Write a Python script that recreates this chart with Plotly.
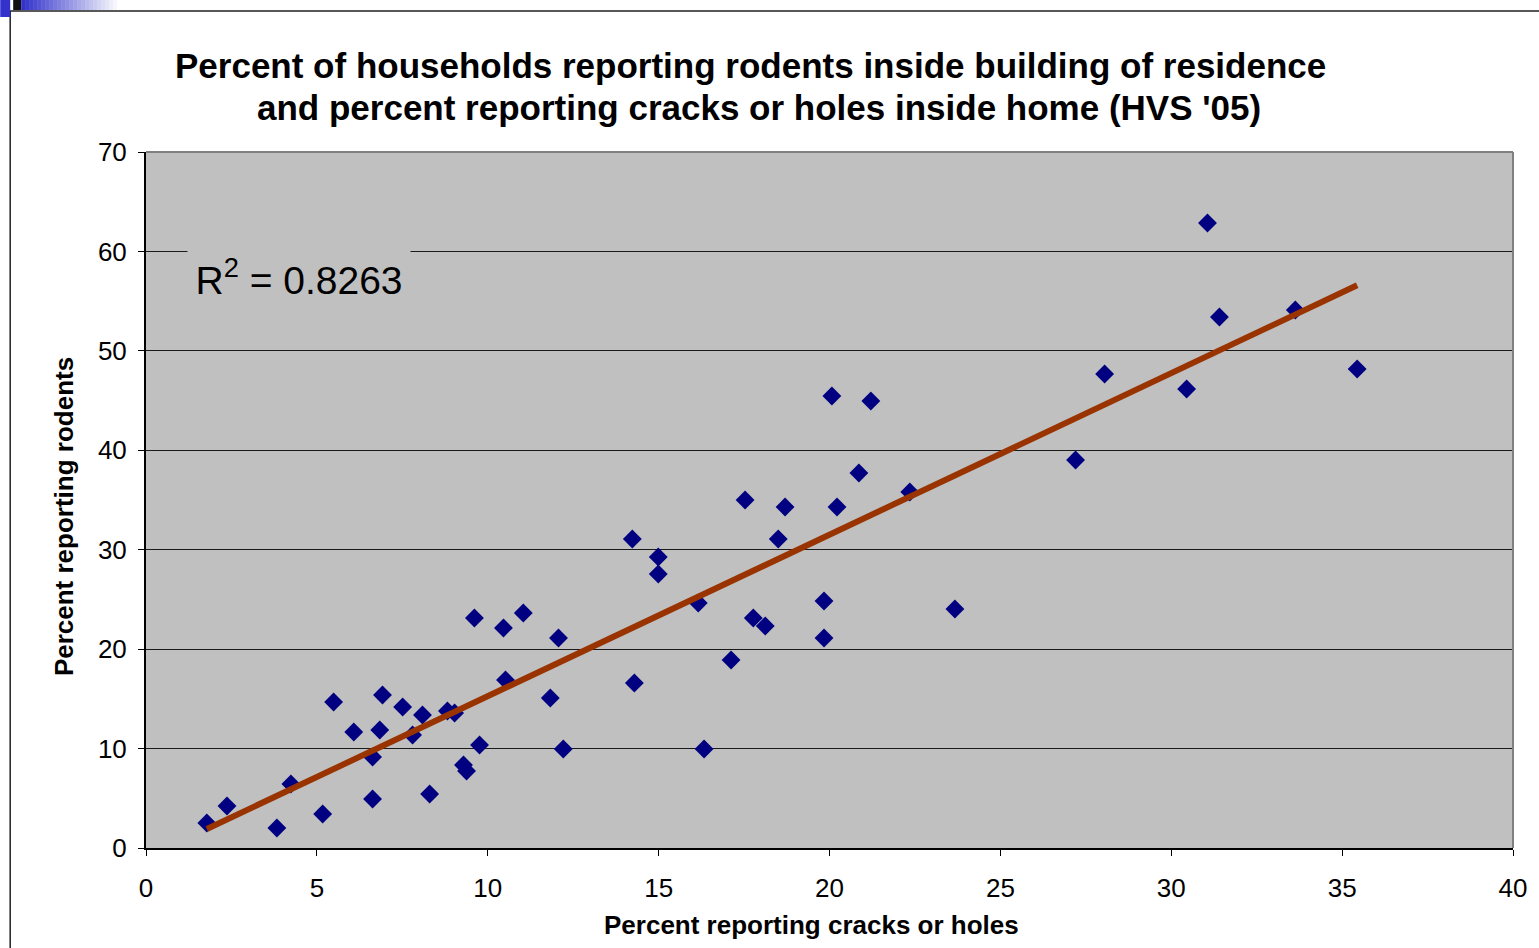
import numpy as np
import plotly.graph_objects as go

# Housing survey results by area: share of households reporting cracks/holes
# inside the home vs. share reporting rodents inside the building.
cracks_pct = [
    1.78, 2.37, 3.83, 4.24, 5.17, 5.49, 6.08, 6.63, 6.63, 6.84,
    6.92, 7.51, 7.80, 8.09, 8.30, 8.82, 9.03, 9.29, 9.38, 9.61,
    9.76, 10.46, 10.52, 11.04, 11.83, 12.07, 12.21, 14.23, 14.29, 14.99,
    14.99, 16.16, 16.33, 17.12, 17.53, 17.77, 18.12, 18.50, 18.70, 19.84,
    19.84, 20.07, 20.22, 20.86, 21.21, 22.35, 23.67, 27.20, 28.05, 30.45,
    31.06, 31.41, 33.63, 35.44,
]
rodents_pct = [
    2.51, 4.22, 2.01, 6.44, 3.42, 14.68, 11.67, 9.15, 4.93, 11.87,
    15.39, 14.18, 11.36, 13.38, 5.43, 13.78, 13.58, 8.35, 7.74, 23.13,
    10.36, 22.13, 16.90, 23.63, 15.09, 21.12, 9.96, 31.08, 16.59, 29.27,
    27.56, 24.64, 9.96, 18.91, 35.00, 23.13, 22.33, 31.08, 34.30, 24.84,
    21.12, 45.46, 34.30, 37.71, 44.96, 35.80, 24.04, 39.02, 47.67, 46.16,
    62.86, 53.40, 54.11, 48.17,
]

x_ticks = [0, 5, 10, 15, 20, 25, 30, 35, 40]
y_ticks = [0, 10, 20, 30, 40, 50, 60, 70]

title_line1 = "Percent of households reporting rodents inside building of residence"
title_line2 = "and percent reporting cracks or holes inside home (HVS '05)"
x_title = "Percent reporting cracks or holes"
y_title = "Percent reporting rodents"
r2_label = "R<sup>2</sup> = 0.8263"

# Least-squares trend line spanning the observed x range
xs = np.array(cracks_pct)
ys = np.array(rodents_pct)
slope, intercept = np.polyfit(xs, ys, 1)
trend_x = [xs.min(), xs.max()]
trend_y = [intercept + slope * v for v in trend_x]

W, H = 1539, 948
L, R, T, B = 146, 24, 152, 100
PW, PH = W - L - R, H - T - B


def px_x(p):
    return (p - L) / PW


def px_y(p):
    return (H - B - p) / PH


FONT = "Liberation Sans, Arial, sans-serif"

fig = go.Figure()

fig.add_trace(go.Scatter(
    x=cracks_pct, y=rodents_pct, mode="markers",
    marker=dict(symbol="diamond", size=14.5, color="#000080",
                line=dict(width=0)),
    showlegend=False, cliponaxis=False,
))
fig.add_trace(go.Scatter(
    x=trend_x, y=trend_y, mode="lines",
    line=dict(color="#993300", width=6),
    showlegend=False,
))

shapes = []
# outer chart frame
shapes.append(dict(type="rect", xref="paper", yref="paper",
                   x0=px_x(10), x1=px_x(1545), y0=px_y(11), y1=px_y(960),
                   line=dict(color="#222222", width=1.5), fillcolor="rgba(0,0,0,0)",
                   layer="below"))
# plot-area border (top and right in grey)
shapes.append(dict(type="line", xref="paper", yref="paper",
                   x0=0, x1=1, y0=1, y1=1, line=dict(color="#808080", width=2)))
shapes.append(dict(type="line", xref="paper", yref="paper",
                   x0=1, x1=1, y0=0, y1=1, line=dict(color="#808080", width=2)))
# slide decoration in the top-left corner
shapes.append(dict(type="rect", xref="paper", yref="paper",
                   x0=px_x(0), x1=px_x(10), y0=px_y(17), y1=px_y(0),
                   line=dict(width=0), fillcolor="#3333cc"))
shapes.append(dict(type="rect", xref="paper", yref="paper",
                   x0=px_x(13), x1=px_x(21), y0=px_y(10), y1=px_y(0),
                   line=dict(width=0), fillcolor="#111111"))
steps = 25
for i in range(steps):
    a0 = 21 + i * 100 / steps
    a1 = a0 + 100 / steps + 0.5
    t = i / (steps - 1)
    r = int(51 + (255 - 51) * t)
    g = int(51 + (255 - 51) * t)
    b = int(204 + (255 - 204) * t)
    shapes.append(dict(type="rect", xref="paper", yref="paper",
                       x0=px_x(a0), x1=px_x(a1), y0=px_y(10), y1=px_y(0),
                       line=dict(width=0), fillcolor=f"rgb({r},{g},{b})"))

title_font = dict(family=FONT, size=35, color="black", weight="bold")
annotations = [
    dict(text=title_line1, xref="paper", yref="paper",
         x=px_x(751), y=px_y(65), xanchor="center", yanchor="middle",
         showarrow=False, font=title_font),
    dict(text=title_line2, xref="paper", yref="paper",
         x=px_x(760), y=px_y(108), xanchor="center", yanchor="middle",
         showarrow=False, font=title_font),
    dict(text=x_title, xref="paper", yref="paper",
         x=px_x(812), y=px_y(925), xanchor="center", yanchor="middle",
         showarrow=False,
         font=dict(family=FONT, size=26, color="black", weight="bold")),
    dict(text=y_title, xref="paper", yref="paper", textangle=-90,
         x=px_x(64), y=px_y(517), xanchor="center", yanchor="middle",
         showarrow=False,
         font=dict(family=FONT, size=26, color="black", weight="bold")),
    dict(text=r2_label, xref="paper", yref="paper",
         x=px_x(299), y=px_y(277), xanchor="center", yanchor="middle",
         showarrow=False, width=220, height=60, bgcolor="#C0C0C0",
         font=dict(family=FONT, size=39, color="black")),
]

fig.update_layout(
    width=W, height=H,
    margin=dict(l=L, r=R, t=T, b=B, pad=0),
    paper_bgcolor="white", plot_bgcolor="#C0C0C0",
    shapes=shapes, annotations=annotations,
    font=dict(family=FONT, color="black"),
    xaxis=dict(range=[0, 40], tickvals=x_ticks, ticktext=[str(v) for v in x_ticks],
               showgrid=False, zeroline=False,
               showline=True, linecolor="black", linewidth=2,
               ticks="outside", ticklen=6, tickcolor="black", tickwidth=1,
               ticklabelstandoff=10,
               tickfont=dict(family=FONT, size=26, color="black"), fixedrange=True),
    yaxis=dict(range=[0, 70], tickvals=y_ticks, ticktext=[str(v) for v in y_ticks],
               showgrid=True, gridcolor="#1a1a1a", gridwidth=1, zeroline=False,
               showline=True, linecolor="black", linewidth=2,
               ticks="outside", ticklen=6, tickcolor="black", tickwidth=1,
               ticklabelstandoff=6,
               tickfont=dict(family=FONT, size=26, color="black"), fixedrange=True),
)

fig.write_html("out.html")
